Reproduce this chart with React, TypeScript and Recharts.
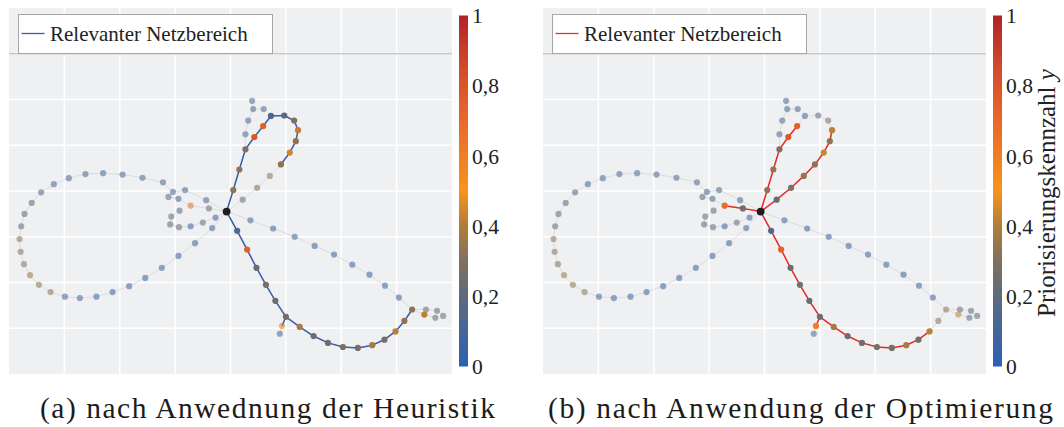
import React from "react";
import {
  Bar,
  BarChart,
  CartesianGrid,
  ReferenceLine,
  Scatter,
  ScatterChart,
  XAxis,
  YAxis,
} from "recharts";

const SERIF = "Liberation Serif";

// Netzknoten: Name, Lage (Rastereinheiten) und Priorisierungskennzahl y
const nodeNames = [
  "K",
  "u1", "u2", "u3", "u4", "u5", "u6", "u7", "u8", "u9", "u10", "u11", "u12", "u13", "u14", "u15",
  "w1", "w2", "w3", "w4", "w5",
  "d1", "d2", "d3", "d4", "d5", "d6", "d7", "d8",
  "b1", "b2", "b3", "b4", "b5", "b6", "b7", "b8", "b9", "b10",
  "r1", "r2", "r3", "r4", "r5",
  "p1", "p2", "p3", "p4", "p5", "p6", "p7", "p8", "p9",
  "l1", "l2", "l3", "l4", "l5", "l6", "l7", "l8", "l9", "l10", "l11", "l12", "l13", "l14", "l15",
  "L0", "L1", "L2", "L3", "L4", "L5", "L6", "L7", "L8", "L9", "L10", "L11", "L12",
  "L13", "L14", "L15", "L16", "L17", "L18", "L19", "L20", "L21", "L22", "L23", "L24", "L25",
];
const nodeX = [
  3.93,
  4.05, 4.16, 4.27, 4.43, 4.59, 4.73, 4.97, 5.15, 5.22, 5.18, 5.07, 4.91, 4.71, 4.48, 4.22,
  4.39, 4.41, 4.6, 4.32, 4.27,
  4.12, 4.3, 4.47, 4.64, 4.81, 5.0, 4.93, 4.89,
  5.25, 5.5, 5.76, 6.03, 6.3, 6.56, 6.78, 6.98, 7.14, 7.28,
  7.5, 7.53, 7.73, 7.7, 7.84,
  4.36, 4.77, 5.16, 5.52, 5.87, 6.2, 6.51, 6.79, 7.04,
  3.61, 3.28, 3.73, 3.67, 3.56, 3.18, 2.96, 2.88, 3.06, 3.08, 2.93, 2.91, 3.07, 3.28, 3.5,
  2.78, 2.41, 2.05, 1.7, 1.38, 1.08, 0.81, 0.58, 0.41, 0.28, 0.22, 0.19, 0.21,
  0.27, 0.38, 0.54, 0.75, 1.01, 1.28, 1.58, 1.87, 2.17, 2.46, 2.76, 3.06, 3.36,
];
const nodeY = [
  3.55,
  4.02, 4.47, 4.91, 5.18, 5.42, 5.64, 5.65, 5.54, 5.33, 5.09, 4.84, 4.58, 4.33, 4.07, 3.81,
  5.97, 5.79, 5.79, 5.54, 5.24,
  3.13, 2.72, 2.32, 1.95, 1.6, 1.25, 1.05, 0.88,
  1.03, 0.83, 0.68, 0.59, 0.57, 0.63, 0.75, 0.93, 1.16, 1.41,
  1.3, 1.41, 1.38, 1.23, 1.27,
  3.36, 3.18, 3.0, 2.8, 2.61, 2.39, 2.17, 1.93, 1.67,
  3.62, 3.68, 3.42, 3.19, 3.8, 4.02, 3.98, 3.87, 3.83, 3.57, 3.44, 3.27, 3.21, 3.23, 3.31,
  4.19, 4.29, 4.36, 4.39, 4.37, 4.28, 4.15, 3.97, 3.74, 3.5, 3.23, 2.95, 2.67,
  2.4, 2.16, 1.95, 1.79, 1.69, 1.66, 1.69, 1.79, 1.92, 2.1, 2.32, 2.58, 2.86,
];
const nodePriority = [
  0,
  0.33, 0.34, 0.3, 0.78, 0.74, 0.12, 0.17, 0.3, 0.42, 0.33, 0.44, 0.33, 0.34, 0.3, 0.24,
  0.13, 0.13, 0.14, 0.13, 0.14,
  0.15, 0.74, 0.23, 0.28, 0.24, 0.25, 0.6, 0.12,
  0.38, 0.24, 0.25, 0.27, 0.27, 0.38, 0.27, 0.41, 0.33, 0.32,
  0.42, 0.22, 0.22, 0.21, 0.22,
  0.09, 0.08, 0.08, 0.08, 0.08, 0.08, 0.08, 0.08, 0.08,
  0.25, 0.68, 0.08, 0.08, 0.13, 0.13, 0.13, 0.2, 0.14, 0.2, 0.21, 0.2, 0.22, 0.08, 0.22,
  0.15, 0.13, 0.12, 0.12, 0.12, 0.12, 0.12, 0.14, 0.2, 0.2, 0.22, 0.33, 0.32,
  0.31, 0.36, 0.33, 0.33, 0.1, 0.07, 0.07, 0.07, 0.07, 0.07, 0.07, 0.07, 0.07,
];
const feeder = "K";

const seq = (p: string, from: number, to: number) => {
  const out: string[] = [];
  const step = from <= to ? 1 : -1;
  for (let i = from; step > 0 ? i <= to : i >= to; i += step) out.push(p + i);
  return out;
};

// Leitungen des Netzes als Knotenfolgen
const networkPaths: string[][] = [
  ["K", ...seq("u", 1, 15), "K"],
  ["u3", "w5", "w4", "w2", "w1"],
  ["w2", "w3"],
  ["K", ...seq("d", 1, 8)],
  ["d6", ...seq("b", 1, 10)],
  ["K", ...seq("p", 1, 9), "b10"],
  ["b10", "r1", "r4"],
  ["b10", "r2", "r3", "r5"],
  ["K", "l5", "l6", "l7", "L0"],
  ["K", "l1", "l2", "l9", "l8"],
  ["K", "l3", "l15", "l14", "l13", "l12", "l11", "l10"],
  ["K", "l4", ...seq("L", 25, 0)],
];

// relevanter Netzbereich (a) Heuristik
const heuristicPaths: string[][] = [
  ["K", ...seq("u", 1, 12)],
  ["K", ...seq("d", 1, 7)],
  ["d6", ...seq("b", 1, 10)],
];
const heuristicNodes = ["K", ...seq("u", 1, 12), ...seq("d", 1, 6), ...seq("b", 1, 10), "r1"];

// relevanter Netzbereich (b) Optimierung
const optimPaths: string[][] = [
  ["K", ...seq("u", 1, 5)],
  ["K", ...seq("u", 15, 9)],
  ["K", "l1", "l2"],
  ["K", ...seq("d", 1, 7)],
  ["d6", ...seq("b", 1, 8)],
];
const optimNodes = ["K", ...seq("u", 1, 5), ...seq("u", 9, 15), "l1", "l2", ...seq("d", 1, 7), ...seq("b", 1, 8)];

const gridTicks = [1, 2, 3, 4, 5, 6, 7];
const colorbarTicks = [0, 0.2, 0.4, 0.6, 0.8, 1];

const scaleStops: [number, string][] = [
  [0, "#2962b5"],
  [0.2, "#5e6a7c"],
  [0.3, "#807060"],
  [0.4, "#b07d3a"],
  [0.5, "#f7931e"],
  [0.7, "#e8692a"],
  [0.85, "#d24a2b"],
  [1, "#b22227"],
];

const rgb = (hex: string) => [1, 3, 5].map((i) => parseInt(hex.slice(i, i + 2), 16));

function colorAt(v: number) {
  for (let i = 1; i < scaleStops.length; i++) {
    const [v1, c1] = scaleStops[i];
    const [v0, c0] = scaleStops[i - 1];
    if (v <= v1) {
      const t = (v - v0) / (v1 - v0);
      const a = rgb(c0);
      const b = rgb(c1);
      return `rgb(${a.map((x, k) => Math.round(x + (b[k] - x) * t)).join(",")})`;
    }
  }
  return scaleStops[scaleStops.length - 1][1];
}

const pos = (name: string) => {
  const i = nodeNames.indexOf(name);
  return { x: nodeX[i], y: nodeY[i] };
};

const NodeDot = (props: any) => {
  const { cx, cy, payload } = props;
  if (cx == null || cy == null) return <g />;
  return <circle cx={cx} cy={cy} r={payload.r} fill={payload.fill} fillOpacity={payload.op} />;
};

const NoDot = () => <g />;

function nodeData(relevant: string[]) {
  const faint: any[] = [];
  const full: any[] = [];
  nodeNames.forEach((n, i) => {
    if (n === feeder) return;
    const d = { x: nodeX[i], y: nodeY[i], fill: colorAt(nodePriority[i]), r: 3.1 };
    if (relevant.includes(n)) full.push({ ...d, op: 1 });
    else faint.push({ ...d, op: 0.55 });
  });
  return [...faint, ...full, { ...pos(feeder), fill: "#1e1e1e", r: 3.9, op: 1 }];
}

function NetworkPanel({
  left,
  paths,
  nodes,
  accent,
}: {
  left: number;
  paths: string[][];
  nodes: string[];
  accent: string;
}) {
  return (
    <div style={{ position: "absolute", left, top: 8 }}>
      <ScatterChart width={443} height={366} margin={{ top: 0, right: 0, bottom: 0, left: 0 }}>
        <CartesianGrid
          fill="#eff0f2"
          stroke="#ffffff"
          strokeWidth={1.5}
          horizontalValues={gridTicks}
          verticalValues={gridTicks}
        />
        <XAxis type="number" dataKey="x" domain={[0, 8]} ticks={gridTicks} hide />
        <YAxis type="number" dataKey="y" domain={[0, 8]} ticks={gridTicks} hide />
        <ReferenceLine y={7} stroke="#c9c9cc" strokeWidth={1.5} />
        {networkPaths.map((p, i) => (
          <Scatter
            key={`net-${i}`}
            data={p.map(pos)}
            line={{ stroke: "#dcdde0", strokeWidth: 1 }}
            shape={NoDot}
            legendType="none"
            isAnimationActive={false}
          />
        ))}
        {paths.map((p, i) => (
          <Scatter
            key={`rel-${i}`}
            name="Relevanter Netzbereich"
            data={p.map(pos)}
            line={{ stroke: accent, strokeWidth: 1.5 }}
            shape={NoDot}
            isAnimationActive={false}
          />
        ))}
        <Scatter data={nodeData(nodes)} shape={NodeDot} isAnimationActive={false} />
      </ScatterChart>
      <svg
        width={258}
        height={42}
        style={{ position: "absolute", left: 8.5, top: 6, overflow: "visible" }}
      >
        <rect x={0.5} y={0.5} width={254} height={39} fill="#ffffff" stroke="#a6a6a6" strokeWidth={1} />
        <line x1={3.5} x2={26.5} y1={19.5} y2={19.5} stroke={accent} strokeWidth={1.3} />
        <text x={32} y={27} style={{ fontFamily: SERIF }} fontSize={21} fill="#222">
          Relevanter Netzbereich
        </text>
      </svg>
    </div>
  );
}

const ColorbarTitle = (props: any) => {
  const vb = props.viewBox ?? { x: 9, y: 15.5, width: 62, height: 350.5 };
  const cx = vb.x + 53;
  const cy = vb.y + vb.height / 2 + 2;
  return (
    <text
      transform={`translate(${cx},${cy}) rotate(-90)`}
      textAnchor="middle"
      style={{ fontFamily: SERIF }}
      fontSize={25}
      fill="#222"
    >
      Priorisierungskennzahl <tspan fontStyle="italic">y</tspan>
    </text>
  );
};

const colorbarData = [{ k: "y", v: 1 }];

function Colorbar({ left, id, withTitle }: { left: number; id: string; withTitle?: boolean }) {
  const axisWidth = withTitle ? 62 : 41;
  return (
    <div style={{ position: "absolute", left, top: 0 }}>
      <BarChart
        width={9 + axisWidth}
        height={427}
        data={colorbarData}
        margin={{ top: 15.5, right: 0, bottom: 60.5, left: 0 }}
        barCategoryGap={0}
      >
        <defs>
          <linearGradient id={id} x1="0" y1="1" x2="0" y2="0">
            {scaleStops.map(([v, c]) => (
              <stop key={v} offset={v} stopColor={c} />
            ))}
          </linearGradient>
        </defs>
        <XAxis dataKey="k" hide />
        <YAxis
          orientation="right"
          domain={[0, 1]}
          ticks={colorbarTicks}
          width={axisWidth}
          axisLine={false}
          tickLine={false}
          tickSize={0}
          tickMargin={4}
          interval={0}
          tick={{ style: { fontFamily: SERIF }, fontSize: 21.5, fill: "#222" }}
          tickFormatter={(v: number) => String(v).replace(".", ",")}
          label={withTitle ? { content: ColorbarTitle } : undefined}
        />
        <Bar dataKey="v" fill={`url(#${id})`} isAnimationActive={false} />
      </BarChart>
    </div>
  );
}

export default function App() {
  return (
    <div
      style={{
        position: "absolute",
        left: 0,
        top: 0,
        width: 1064,
        height: 427,
        background: "#ffffff",
        overflow: "hidden",
        fontFamily: SERIF,
      }}
    >
      <NetworkPanel left={9} paths={heuristicPaths} nodes={heuristicNodes} accent="#3a5ca9" />
      <Colorbar left={459} id="cbA" />
      <NetworkPanel left={543} paths={optimPaths} nodes={optimNodes} accent="#e8292b" />
      <Colorbar left={993} id="cbB" withTitle />
      <svg width={1064} height={50} style={{ position: "absolute", left: 0, top: 377 }}>
        <text x={40} y={41} style={{ fontFamily: SERIF }} fontSize={29.5} fill="#1c1c1c" textLength={455} lengthAdjust="spacing">
          (a) nach Anwednung der Heuristik
        </text>
        <text x={548} y={41} style={{ fontFamily: SERIF }} fontSize={29.5} fill="#1c1c1c" textLength={505} lengthAdjust="spacing">
          (b) nach Anwendung der Optimierung
        </text>
      </svg>
    </div>
  );
}
